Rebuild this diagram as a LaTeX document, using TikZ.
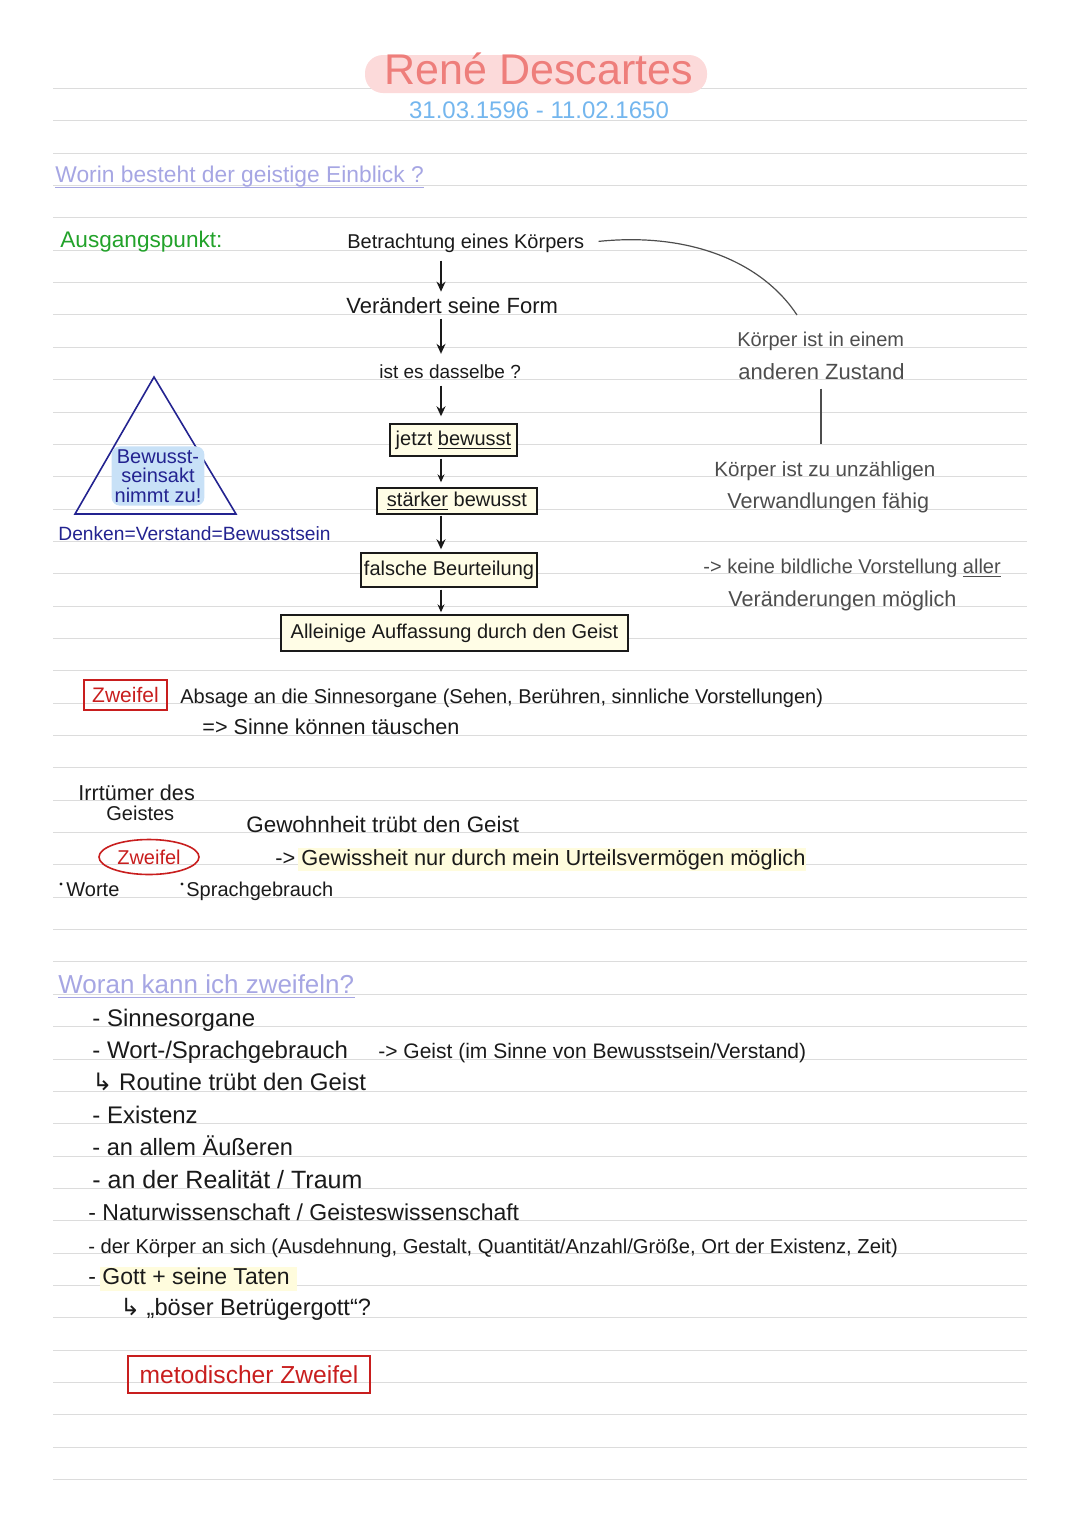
\documentclass[tikz,border=0pt]{standalone}
\usepackage{fontspec}
\setmainfont{Liberation Sans}
\newfontfamily\symfont{DejaVu Sans}
\usetikzlibrary{arrows.meta,shapes.geometric}

\definecolor{rulegray}{HTML}{DCDCDC}
\definecolor{titlered}{HTML}{EE7E7B}
\definecolor{titlebg}{HTML}{FCDADA}
\definecolor{dateblue}{HTML}{74B6EE}
\definecolor{lavender}{HTML}{A6A6E3}
\definecolor{agreen}{HTML}{22A22A}
\definecolor{navy}{HTML}{232390}
\definecolor{zred}{HTML}{C81E1E}
\definecolor{notegray}{HTML}{4D4D4D}
\definecolor{ink}{HTML}{1A1A1A}
\definecolor{boxfill}{HTML}{FFFDE6}
\definecolor{hlyellow}{HTML}{FFFCDD}
\definecolor{tribg}{HTML}{C8E1F7}

\newcommand{\fsz}[1]{\fontsize{#1}{#1}\selectfont}

\begin{document}
\begin{tikzpicture}[x=0.5pt,y=-0.5pt,
  txt/.style={anchor=base west,inner sep=0pt,text=ink,font=\fsz{10}},
  ctxt/.style={anchor=base,inner sep=0pt,text=ink,font=\fsz{10}},
  flowbox/.style={draw=ink,fill=boxfill,line width=0.7pt,inner sep=0pt,text=ink,
    font=\fsz{10},text height=7.5pt,text depth=2.2pt},
  flow/.style={-{Stealth[length=5pt,width=4.5pt]},line width=1pt,ink},
  thinflow/.style={-{Stealth[length=4pt,width=3.5pt]},line width=0.55pt,ink},
  noteline/.style={notegray,line width=0.6pt},
  redbox/.style={draw=zred,line width=0.8pt,text=zred,inner sep=0pt}]
\useasboundingbox (0,0) rectangle (1080,1527);

% ruled paper
\foreach \i in {0,...,43}
  \draw[rulegray,line width=0.5pt] (53,{88.5+32.35*\i}) -- (1027,{88.5+32.35*\i});

% title
\fill[titlebg,rounded corners=9pt] (365,55) rectangle (707,93);
\node[ctxt,font=\fsz{21.5},text=titlered] (title) at (539,84) {René Descartes};
\node[ctxt,font=\fsz{12},text=dateblue] (dates) at (539,118) {31.03.1596 - 11.02.1650};

\node[txt,font=\fsz{11.4},text=lavender] (worin) at (55,182) {Worin besteht der geistige Einblick ?};
\draw[lavender,line width=0.6pt] (worin.south west) -- (worin.south east);
\node[txt,font=\fsz{11.3},text=agreen] (ausg) at (60,247) {Ausgangspunkt:};

% flow chart
\node[txt] (betr) at (347,248) {Betrachtung eines Körpers};
\node[txt,font=\fsz{11}] (form) at (346,313) {Verändert seine Form};
\node[txt,font=\fsz{9.5}] (same) at (379,378) {ist es dasselbe ?};
\node[flowbox,minimum width=63.5pt,minimum height=16pt] (jetzt) at (453.5,440) {jetzt \underline{bewusst}};
\node[flowbox,minimum width=80pt,minimum height=13pt] (staerker) at (457,501) {\underline{stärker} bewusst};
\node[flowbox,minimum width=88pt,minimum height=17pt] (falsch) at (449,570) {falsche Beurteilung};
\node[flowbox,minimum width=173.5pt,minimum height=18pt] (allein) at (454.5,633) {Alleinige Auffassung durch den Geist};

\coordinate (ax) at (441,0);
\draw[flow,shorten <=4pt,shorten >=2.5pt] (betr.south -| ax) -- (form.north -| ax);
\draw[flow,shorten <=2.5pt,shorten >=5pt] (form.south -| ax) -- (same.north -| ax);
\draw[flow,shorten <=3.5pt,shorten >=3.5pt] (same.south -| ax) -- (jetzt.north -| ax);
\draw[thinflow,shorten <=1pt,shorten >=2.5pt] (jetzt.south -| ax) -- (staerker.north -| ax);
\draw[flow,shorten <=0.5pt,shorten >=1.5pt] (staerker.south -| ax) -- (falsch.north -| ax);
\draw[thinflow,shorten <=1pt,shorten >=1pt] (falsch.south -| ax) -- (allein.north -| ax);

% notes on the right
\coordinate (arcend) at (797,315);
\draw[noteline,shorten <=7pt] (betr.east) .. controls (690,232) and (762,262) .. (arcend);
\node[txt,text=notegray] (zusta) at (737,346) {Körper ist in einem};
\node[txt,font=\fsz{11},text=notegray] (zustb) at (738,379) {anderen Zustand};
\node[txt,font=\fsz{10.3},text=notegray] (verwa) at (714,476) {Körper ist zu unzähligen};
\node[txt,font=\fsz{10.8},text=notegray] (verwb) at (727,508) {Verwandlungen fähig};
\coordinate (vx) at (821,0);
\draw[noteline,shorten <=4.5pt,shorten >=8.5pt] (zustb.south -| vx) -- (verwa.north -| vx);
\node[txt,text=notegray] (bilda) at (703,573) {-> keine bildliche Vorstellung \underline{aller}};
\node[txt,font=\fsz{10.8},text=notegray] (bildb) at (728,606) {Veränderungen möglich};

% triangle
\draw[navy,line width=0.8pt] (154,377) -- (236,514) -- (75,514) -- cycle;
\node[fill=tribg,rounded corners=4pt,inner sep=1.5pt,align=center,text=navy,
  font=\fontsize{10}{9.8}\selectfont] (akt) at (158,476) {Bewusst-\\seinsakt\\nimmt zu!};
\node[txt,font=\fsz{9.6},text=navy] (denken) at (58,540) {Denken=Verstand=Bewusstsein};

% Zweifel
\node[redbox,font=\fsz{10.5},minimum width=41.5pt,minimum height=15pt] (zbox) at (125.5,695) {Zweifel};
\node[txt] (absage) at (180,703) {Absage an die Sinnesorgane (Sehen, Berühren, sinnliche Vorstellungen)};
\node[txt,font=\fsz{10.8}] (taeusch) at (202,734) {=> Sinne können täuschen};

\node[txt,font=\fsz{10.8}] (irrt) at (78,800) {Irrtümer des};
\node[txt] (geist) at (106,820) {Geistes};
\node[txt,font=\fsz{11.2}] (gewohn) at (246,832) {Gewohnheit trübt den Geist};
\node[ellipse,draw=zred,line width=0.8pt,text=zred,font=\fsz{10},minimum width=50pt,
  minimum height=17.5pt,inner sep=0pt] (zell) at (149,857) {Zweifel};
\fill[hlyellow] (298,848) rectangle (806,871);
\node[txt,font=\fsz{10.9}] (gewiss) at (275,865) {-> Gewissheit nur durch mein Urteilsvermögen möglich};
\fill[ink] (61,884) circle (0.8pt);
\node[txt] (worte) at (66,896) {Worte};
\fill[ink] (182,884) circle (0.8pt);
\node[txt] (sprach) at (186,896) {Sprachgebrauch};

% Woran kann ich zweifeln
\node[txt,font=\fsz{13},text=lavender] (woran) at (58,993) {Woran kann ich zweifeln?};
\draw[lavender,line width=0.6pt] ([yshift=-2pt]woran.south west) -- ([yshift=-2pt]woran.south east);
\node[txt,font=\fsz{12}] (l1) at (92,1026) {- Sinnesorgane};
\node[txt,font=\fsz{12}] (l2) at (92,1058) {- Wort-/Sprachgebrauch};
\node[txt,font=\fsz{10.5}] (l2b) at (378,1058) {-> Geist (im Sinne von Bewusstsein/Verstand)};
\node[txt,font=\fsz{12}] (l3) at (92,1090) {{\symfont ↳} Routine trübt den Geist};
\node[txt,font=\fsz{12}] (l4) at (92,1123) {- Existenz};
\node[txt,font=\fsz{11.8}] (l5) at (92,1155) {- an allem Äußeren};
\node[txt,font=\fsz{12.5}] (l6) at (92,1188) {- an der Realität / Traum};
\node[txt,font=\fsz{11.5}] (l7) at (88,1220) {- Naturwissenschaft / Geisteswissenschaft};
\node[txt,font=\fsz{10.1}] (l8) at (88,1253) {- der Körper an sich (Ausdehnung, Gestalt, Quantität/Anzahl/Größe, Ort der Existenz, Zeit)};
\fill[hlyellow] (100,1267) rectangle (297,1291);
\node[txt,font=\fsz{11.5}] (l9) at (88,1284) {- Gott + seine Taten};
\node[txt,font=\fsz{11.8}] (l10) at (120,1315) {{\symfont ↳} „böser Betrügergott“?};
\node[redbox,font=\fsz{12.3},minimum width=121pt,minimum height=18.5pt] (method) at (249,1374.5) {metodischer Zweifel};
\end{tikzpicture}
\end{document}
